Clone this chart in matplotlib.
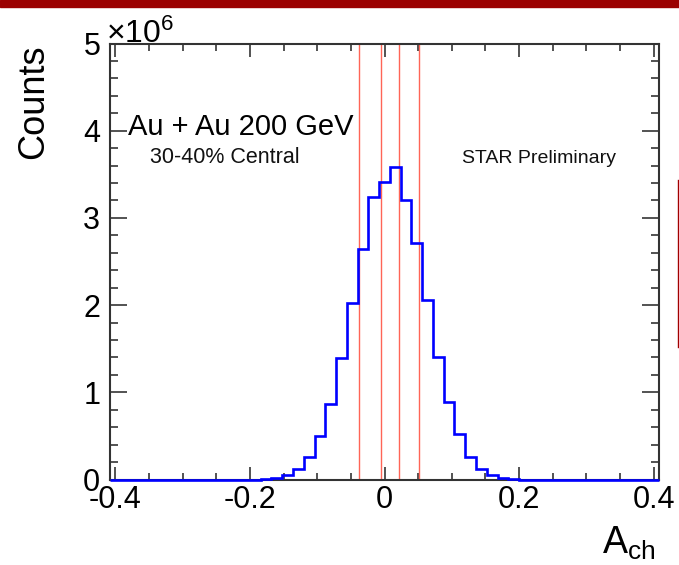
import numpy as np
import matplotlib
matplotlib.use("Agg")
import matplotlib.pyplot as plt
from matplotlib.ticker import MultipleLocator
from matplotlib.patches import Rectangle
from matplotlib.lines import Line2D

# ---------------- data ----------------
bin_low = -0.408
bin_high = 0.408
# counts per bin (units of 10^6), 51 bins of width 0.016
counts = [0, 0, 0, 0, 0, 0, 0, 0, 0, 0, 0, 0, 0, 0,
          0.005, 0.02, 0.05, 0.126, 0.26, 0.50, 0.87, 1.39, 2.02, 2.64, 3.24,
          3.41,
          3.58, 3.20, 2.71, 2.06, 1.405, 0.89, 0.52, 0.26, 0.126, 0.046, 0.02, 0.005,
          0, 0, 0, 0, 0, 0, 0, 0, 0, 0, 0, 0, 0]
edges = np.linspace(bin_low, bin_high, len(counts) + 1)
cut_lines = [-0.0378, -0.0056, 0.021, 0.0516]
x_ticks = [-0.4, -0.2, 0, 0.2, 0.4]
x_ticklabels = ["-0.4", "-0.2", "0", "0.2", "0.4"]
y_ticks = [0, 1, 2, 3, 4, 5]

W, H = 679, 565
plt.rcParams['font.family'] = ['Liberation Sans', 'DejaVu Sans']
plt.rcParams['mathtext.fontset'] = 'custom'
plt.rcParams['mathtext.rm'] = 'Liberation Sans'
plt.rcParams['mathtext.it'] = 'Liberation Sans'

fig = plt.figure(figsize=(W / 100, H / 100), dpi=100)
fig.patch.set_facecolor('white')

def fx(px):
    return px / W

def fy(py):
    return 1 - py / H

ax = fig.add_axes([fx(110), fy(479.5), fx(659) - fx(110), fy(43.5) - fy(479.5)])

ax.stairs(counts, edges, color='#0000ff', linewidth=1.9, zorder=3, clip_on=False)
for c in cut_lines:
    ax.axvline(c, color='#ff4a3a', linewidth=1.0, alpha=0.85, zorder=2)

ax.set_xlim(bin_low, bin_high)
ax.set_ylim(0, 5)
ax.set_xticks(x_ticks)
ax.set_xticklabels(x_ticklabels)
ax.set_yticks(y_ticks)
ax.xaxis.set_minor_locator(MultipleLocator(0.05))
ax.yaxis.set_minor_locator(MultipleLocator(0.2))

ax.tick_params(axis='both', which='both', direction='in', top=True, right=True,
               color='#444444', width=1.3, labelsize=22, labelcolor='black')
ax.tick_params(axis='x', which='major', length=9.5, pad=4)
ax.tick_params(axis='x', which='minor', length=4.7)
ax.tick_params(axis='y', which='major', length=12, pad=7)
ax.tick_params(axis='y', which='minor', length=5.8)
for s in ax.spines.values():
    s.set_color('#333333')
    s.set_linewidth(1.5)

# axis titles and annotations
fig.text(fx(34), fy(102), "Counts", rotation=90, fontsize=26, ha='center', va='center')
fig.text(fx(106), fy(43), r"$\mathregular{\times10^{6}}$", fontsize=23, ha='left', va='baseline')
fig.text(fx(602), fy(554), r"$\mathregular{A_{ch}}$", fontsize=27, ha='left', va='baseline')
fig.text(fx(128), fy(135), "Au + Au 200 GeV", fontsize=21, ha='left', va='baseline')
fig.text(fx(150), fy(163), "30-40% Central", fontsize=15.5, ha='left', va='baseline', color='#111111')
fig.text(fx(462), fy(163), "STAR Preliminary", fontsize=14, ha='left', va='baseline', color='#111111')

# slide decorations
fig.patches.append(Rectangle((0, fy(7)), 1, fy(0) - fy(7), transform=fig.transFigure,
                             color='#9b0000', zorder=0))
fig.lines.append(Line2D([fx(678), fx(678)], [fy(180), fy(347)], transform=fig.transFigure,
                        color='#a00000', linewidth=1.0))

fig.savefig("out.png", dpi=100)
